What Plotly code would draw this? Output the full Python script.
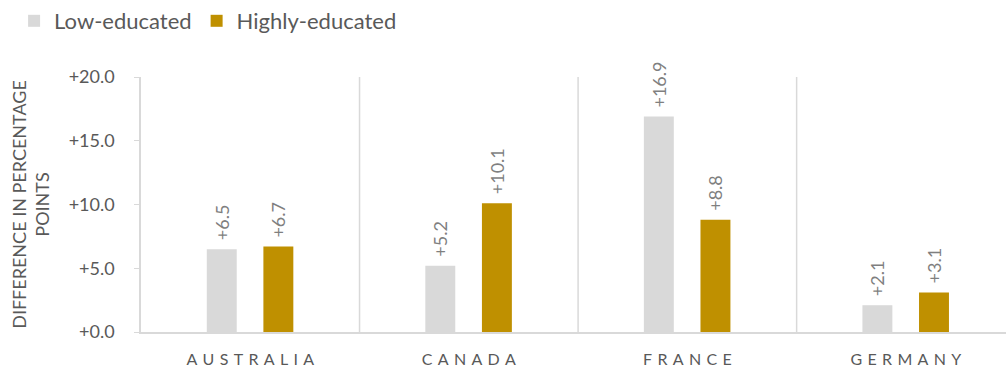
import plotly.graph_objects as go

countries = ["AUSTRALIA", "CANADA", "FRANCE", "GERMANY"]
low_educated = [6.5, 5.2, 16.9, 2.1]
highly_educated = [6.7, 10.1, 8.8, 3.1]
y_ticks = [0, 5, 10, 15, 20]

FONT = "Lato"
GRAY_TEXT = "#595959"
LABEL = "#7f7f7f"
LINE = "#d9d9d9"

# spaced-out capitals for the category labels
spaced = ["\u2004".join(list(c)) for c in countries]
x = list(range(len(countries)))

def bar(values, name, color, offset):
    return go.Bar(
        x=x, y=values, name=name,
        marker=dict(color=color, line=dict(width=0)),
        width=0.137, offset=offset,
        # a leading space keeps the rotated label clear of the bar top
        text=[f"\u2004{v:+.1f}" for v in values],
        textposition="outside", textangle=-90, constraintext="none",
        textfont=dict(family=FONT, size=18, color=LABEL),
        cliponaxis=False,
    )

fig = go.Figure()
fig.add_trace(bar(low_educated, "Low-educated", "#d9d9d9", -0.199))
fig.add_trace(bar(highly_educated, "Highly-educated", "#bf9000", 0.06))

fig.update_layout(
    width=1006, height=368,
    margin=dict(l=141, r=0, t=77, b=36, autoexpand=False),
    paper_bgcolor="white", plot_bgcolor="white",
    barmode="overlay",
    font=dict(family=FONT, color=GRAY_TEXT),
    showlegend=True,
    legend=dict(
        orientation="h", xref="container", yref="container",
        x=0.014, y=1.0, xanchor="left", yanchor="top",
        font=dict(family=FONT, size=22, color=GRAY_TEXT),
        traceorder="normal", itemwidth=30,
    ),
    xaxis=dict(
        tickmode="array", tickvals=x, ticktext=spaced,
        range=[-0.5, 3.458],
        showgrid=False, zeroline=False,
        showline=True, linecolor=LINE, linewidth=1.5,
        ticks="", ticklabelstandoff=12,
        tickfont=dict(family=FONT, size=16, color=GRAY_TEXT),
    ),
    yaxis=dict(
        range=[0, 20], tickmode="array", tickvals=y_ticks,
        ticktext=[f"{v:+.1f}" for v in y_ticks],
        showgrid=False, zeroline=False,
        showline=True, linecolor=LINE, linewidth=1.5,
        ticks="outside", ticklen=5, tickcolor=LINE,
        ticklabelstandoff=16,
        tickfont=dict(family=FONT, size=18, color=GRAY_TEXT),
        title=dict(text="DIFFERENCE IN PERCENTAGE<br>POINTS",
                   font=dict(family=FONT, size=18, color=GRAY_TEXT),
                   standoff=14),
    ),
)

# vertical separators between countries
for b in [0.5, 1.5, 2.5]:
    fig.add_shape(type="line", xref="x", yref="paper", x0=b, x1=b, y0=0, y1=1,
                  line=dict(color=LINE, width=1.5), layer="below")

fig.write_html("out.html")
